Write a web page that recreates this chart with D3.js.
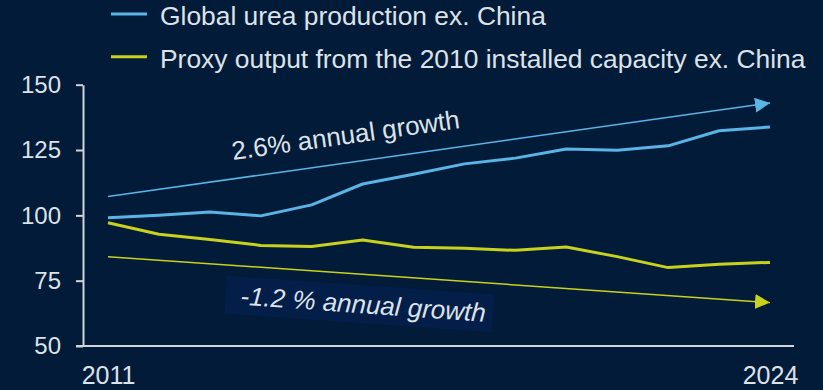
<!DOCTYPE html>
<html>
<head>
<meta charset="utf-8">
<script src="https://cdnjs.cloudflare.com/ajax/libs/d3/7.8.5/d3.min.js"></script>
<style>
  html, body { margin: 0; padding: 0; background: #021b38; }
  svg { display: block; }
  text { font-family: "Liberation Sans", Arial, sans-serif; fill: #dde2e8; }
</style>
</head>
<body>
<svg id="chart" width="823" height="390"></svg>
<script>
// Index values (2010 capacity basis), ex. China
const years = [2011, 2012, 2013, 2014, 2015, 2016, 2017, 2018, 2019, 2020, 2021, 2022, 2023, 2024];
const ureaProduction = [99.1, 100.0, 101.3, 99.8, 104.0, 112.0, 115.7, 119.7, 121.9, 125.4, 124.9, 126.6, 132.4, 133.8];
const proxyOutput = [97.2, 92.8, 90.8, 88.5, 88.1, 90.6, 87.8, 87.4, 86.6, 87.9, 84.2, 80.0, 81.3, 82.0];

// Trend arrows: start / end values over the same period
const trendYears = [2011, 2024];
const trendUp = [107.2, 143.0];
const trendDown = [84.2, 66.6];

const yTicks = [50, 75, 100, 125, 150];
const xTickLabels = [2011, 2024];

const seriesNames = ["Global urea production ex. China",
                     "Proxy output from the 2010 installed capacity ex. China"];
const upLabel = "2.6% annual growth";
const downLabel = "-1.2 % annual growth";

const BLUE = "#5ab4e6";
const YELLOW = "#c8d21e";
const AXIS = "#d0d5db";

const svg = d3.select("#chart");

const x = d3.scaleLinear().domain([2011, 2024]).range([108, 770]);
const y = d3.scaleLinear().domain([50, 150]).range([346, 84.7]);

// Arrowhead markers
const defs = svg.append("defs");
[["arrowBlue", BLUE], ["arrowYellow", YELLOW]].forEach(([id, c]) => {
  defs.append("marker")
    .attr("id", id)
    .attr("markerUnits", "userSpaceOnUse")
    .attr("markerWidth", 16).attr("markerHeight", 16)
    .attr("refX", 15).attr("refY", 7.5)
    .attr("orient", "auto")
    .append("path")
    .attr("d", "M0,0L15,7.5L0,15Z")
    .attr("fill", c);
});

// Y axis
const yAxis = d3.axisLeft(y).tickValues(yTicks).tickSize(7).tickSizeOuter(0).tickPadding(15);
const gy = svg.append("g").attr("transform", "translate(83,0)").call(yAxis);
gy.select(".domain").attr("stroke", AXIS).attr("stroke-width", 2);
gy.selectAll(".tick line").attr("stroke", AXIS).attr("stroke-width", 2);
gy.selectAll(".tick text").attr("font-size", 24).attr("fill", "#dde2e8")
  .attr("font-family", "Liberation Sans, Arial, sans-serif");

// X axis baseline and end labels
svg.append("line")
  .attr("x1", 76).attr("x2", 794)
  .attr("y1", y(50)).attr("y2", y(50))
  .attr("stroke", AXIS).attr("stroke-width", 2);

const xAxis = d3.axisBottom(x).tickValues(xTickLabels).tickFormat(d3.format("d")).tickSize(0).tickPadding(20);
const gx = svg.append("g").attr("transform", `translate(0,${y(50)})`).call(xAxis);
gx.select(".domain").remove();
gx.selectAll(".tick text").attr("font-size", 25).attr("fill", "#dde2e8")
  .attr("font-family", "Liberation Sans, Arial, sans-serif");

// Trend arrows
const trendLine = d3.line().x((d, i) => x(trendYears[i])).y(d => y(d));
svg.append("path").datum(trendUp)
  .attr("d", trendLine)
  .attr("fill", "none").attr("stroke", BLUE).attr("stroke-width", 1.5)
  .attr("marker-end", "url(#arrowBlue)");
svg.append("path").datum(trendDown)
  .attr("d", trendLine)
  .attr("fill", "none").attr("stroke", YELLOW).attr("stroke-width", 1.5)
  .attr("marker-end", "url(#arrowYellow)");

// Series lines
const seriesLine = d3.line().x((d, i) => x(years[i])).y(d => y(d));
svg.append("path").datum(ureaProduction)
  .attr("d", seriesLine)
  .attr("fill", "none").attr("stroke", BLUE).attr("stroke-width", 3)
  .attr("stroke-linejoin", "round");
svg.append("path").datum(proxyOutput)
  .attr("d", seriesLine)
  .attr("fill", "none").attr("stroke", YELLOW).attr("stroke-width", 3)
  .attr("stroke-linejoin", "round");

// Growth annotations
svg.append("text")
  .attr("transform", "translate(233,160) rotate(-8)")
  .attr("font-size", 26)
  .text(upLabel);

const down = svg.append("g").attr("transform", "translate(240,304.7) rotate(4)");
down.append("rect")
  .attr("x", -15).attr("y", -28).attr("width", 268).attr("height", 38)
  .attr("fill", "#031e48");
down.append("text")
  .attr("font-size", 26).attr("font-style", "italic")
  .text(downLabel);

// Legend
const legend = svg.append("g");
[[BLUE, seriesNames[0]], [YELLOW, seriesNames[1]]].forEach(([c, name], i) => {
  const g = legend.append("g").attr("transform", `translate(0,${i * 42.7})`);
  g.append("line").attr("x1", 111).attr("x2", 147).attr("y1", 14).attr("y2", 14)
    .attr("stroke", c).attr("stroke-width", 3);
  g.append("text").attr("x", 160).attr("y", 25).attr("font-size", 26.4).text(name);
});
</script>
</body>
</html>
